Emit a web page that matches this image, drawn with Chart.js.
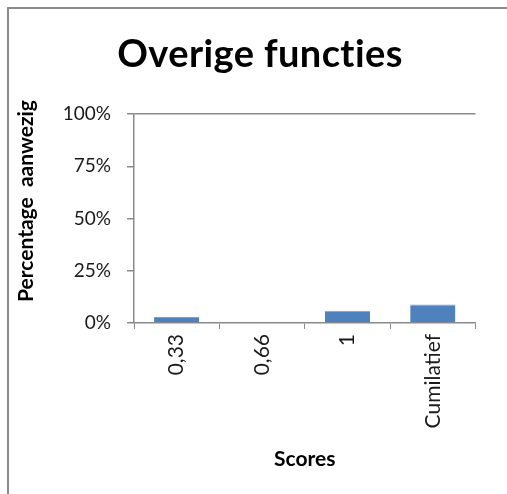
<!DOCTYPE html>
<html>
<head>
<meta charset="utf-8">
<script src="https://cdn.jsdelivr.net/npm/chart.js@4/dist/chart.umd.min.js"></script>
<style>
  html, body { margin: 0; padding: 0; background: #fff; overflow: hidden; }
  #frame {
    position: absolute; left: 7px; top: 7px;
    width: 520px; height: 500px;
    border-left: 2px solid #8a8a8a; border-top: 2px solid #8a8a8a;
  }
  #wrap { position: absolute; left: 0; top: 0; width: 502px; height: 485px; }
</style>
</head>
<body>
<div id="frame"><div id="wrap"><canvas id="c"></canvas></div></div>
<script>
// Share of functions present per score
const categories = ['0,33', '0,66', '1', 'Cumilatief'];
const percentages = [2.9, 0, 5.9, 8.8];
const yTicks = [0, 25, 50, 75, 100];

const chartTitle = 'Overige functies';
const xTitle = 'Scores';
const yTitle = 'Percentage  aanwezig';

const FONT = 'Lato, "Open Sans", sans-serif';
const AXIS = '#8a8a8a';

// Chart title and axis titles drawn at fixed spots around the plot
const titles = {
  id: 'titles',
  afterDraw(chart) {
    const { ctx, chartArea, width } = chart;
    ctx.save();
    ctx.fillStyle = '#000';
    ctx.textAlign = 'center';
    ctx.textBaseline = 'middle';
    // slight tracking keeps the "ti" pair from turning into a ligature
    if ('letterSpacing' in ctx) ctx.letterSpacing = '0.4px';
    ctx.font = 'bold 38px ' + FONT;
    ctx.fillText(chartTitle, width / 2, 46);
    if ('letterSpacing' in ctx) ctx.letterSpacing = '0px';
    ctx.font = 'bold 21px ' + FONT;
    ctx.fillText(xTitle, (chartArea.left + chartArea.right) / 2, 450);
    ctx.translate(17, 192);
    ctx.rotate(-Math.PI / 2);
    ctx.fillText(yTitle, 0, 0);
    ctx.restore();
  }
};

new Chart(document.getElementById('c'), {
  type: 'bar',
  data: {
    labels: categories,
    datasets: [{
      data: percentages,
      backgroundColor: '#4f81bd',
      borderColor: '#7a9fd0',
      borderWidth: { top: 1, left: 0, right: 0, bottom: 0 },
      borderSkipped: false,
      categoryPercentage: 1,
      barPercentage: 0.53
    }]
  },
  options: {
    responsive: true,
    maintainAspectRatio: false,
    animation: false,
    layout: { padding: { left: 0, right: 35.5, top: 105, bottom: 0 } },
    plugins: {
      legend: { display: false },
      tooltip: { enabled: false },
      title: { display: false }
    },
    scales: {
      x: {
        offset: true,
        grid: {
          display: true,
          offset: true,
          drawOnChartArea: false,
          drawTicks: true,
          tickLength: 6,
          color: AXIS,
          lineWidth: 1
        },
        border: { display: true, color: AXIS, width: 1.5 },
        ticks: {
          color: '#1a1a1a',
          font: { family: FONT, size: 21 },
          minRotation: 90,
          maxRotation: 90,
          autoSkip: false,
          padding: 5
        },
        afterFit(scale) { scale.height = 171; }
      },
      y: {
        min: 0,
        max: 100,
        afterBuildTicks(scale) { scale.ticks = yTicks.map(v => ({ value: v })); },
        grid: {
          display: true,
          drawTicks: true,
          tickLength: 7,
          color: ctx => (ctx.tick && ctx.tick.value === 100 ? AXIS : 'rgba(0,0,0,0)'),
          tickColor: AXIS,
          lineWidth: 1.5
        },
        border: { display: true, color: AXIS, width: 1.5 },
        ticks: {
          color: '#1a1a1a',
          font: { family: FONT, size: 19 },
          padding: 16,
          callback: v => v + '%'
        },
        afterFit(scale) { scale.width = 125; }
      }
    }
  },
  plugins: [titles]
});
</script>
</body>
</html>
